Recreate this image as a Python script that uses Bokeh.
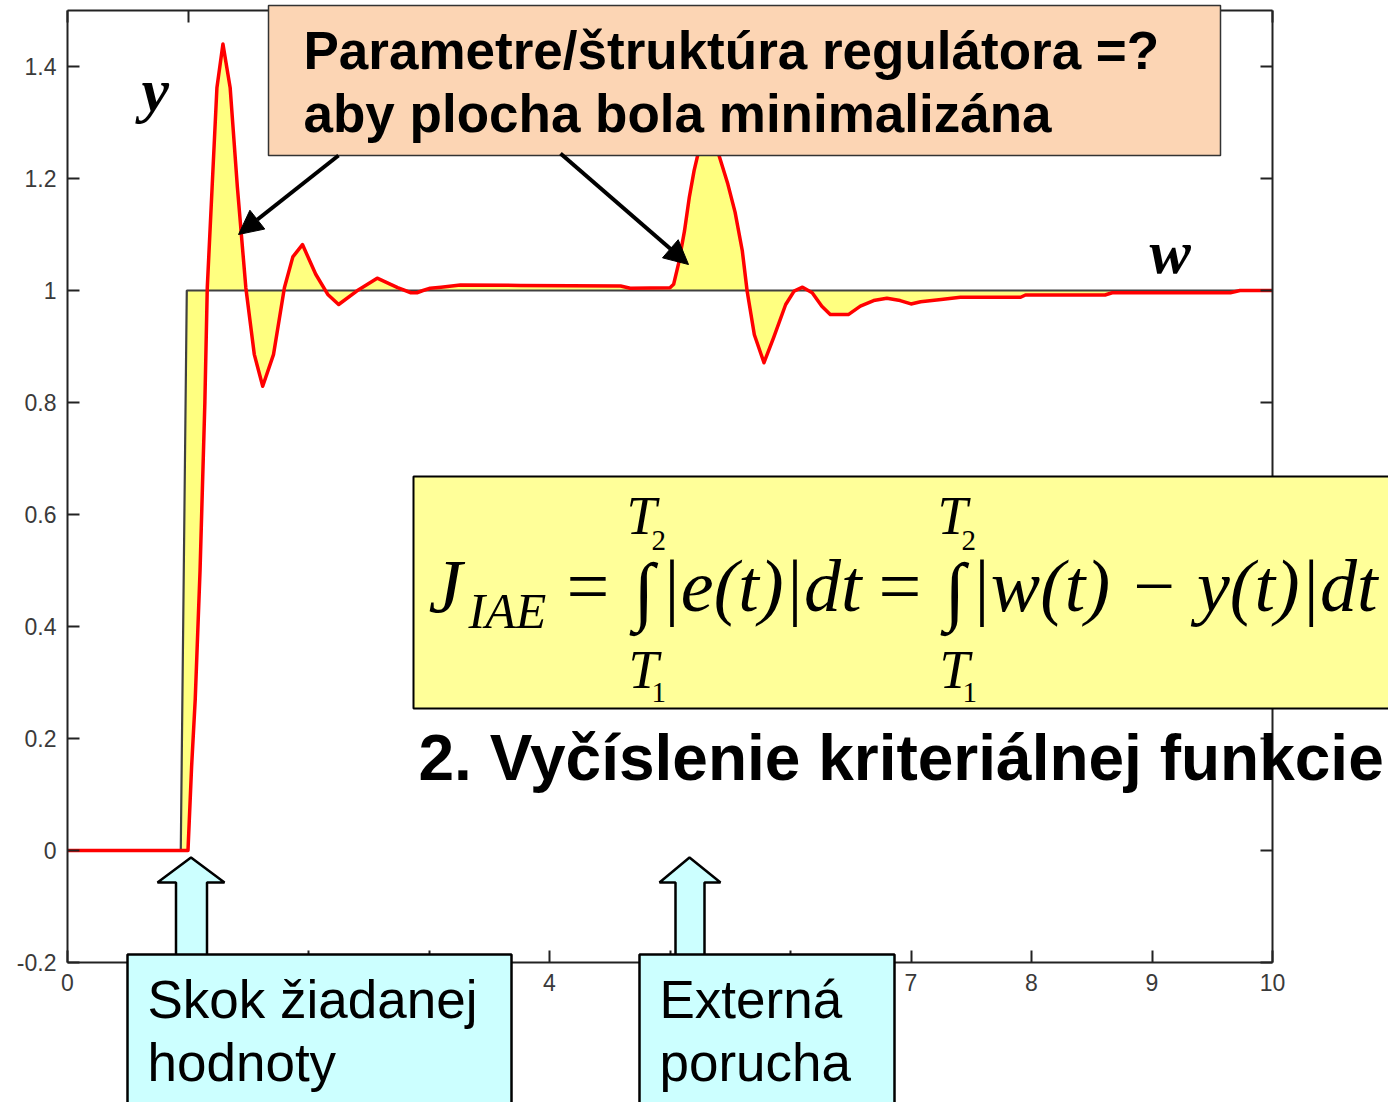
import numpy as np
from bokeh.plotting import figure
from bokeh.models import (LinearAxis, FixedTicker, Range1d, BoxAnnotation, Label,
                          Arrow, NormalHead, PolyAnnotation)
from bokeh.embed import file_html
from bokeh.resources import INLINE

# reference signal w(t): unit step of the setpoint
t_w = [0.0, 0.94, 0.99, 10.0]
w = [0.0, 0.0, 1.0, 1.0]

# controlled output y(t): setpoint step at t=1, disturbance at t=5
t_y = [0.0, 1.00, 1.03, 1.06, 1.10, 1.14, 1.16, 1.20, 1.24, 1.29, 1.35, 1.41,
       1.48, 1.55, 1.62, 1.71, 1.80, 1.87, 1.95, 2.06, 2.16, 2.25, 2.40, 2.57,
       2.74, 2.85, 2.90, 2.95, 3.01, 3.10, 3.26, 3.76, 4.59, 4.67, 5.00, 5.03,
       5.07, 5.12, 5.16, 5.20, 5.25, 5.31, 5.38, 5.48, 5.54, 5.60, 5.64, 5.70,
       5.78, 5.86, 5.96, 6.03, 6.10, 6.18, 6.26, 6.33, 6.48, 6.58, 6.69, 6.80,
       6.91, 7.00, 7.08, 7.25, 7.41, 7.91, 7.95, 8.61, 8.67, 9.65, 9.73, 10.0]
y = [0.0, 0.0, 0.15, 0.27, 0.50, 0.80, 1.005, 1.184, 1.362, 1.44, 1.362, 1.184,
     1.005, 0.886, 0.829, 0.886, 1.005, 1.060, 1.082, 1.029, 0.993, 0.975, 0.999, 1.022,
     1.005, 0.996, 0.996, 1.0, 1.004, 1.006, 1.010, 1.009, 1.008, 1.004, 1.005, 1.011,
     1.047, 1.106, 1.166, 1.214, 1.26, 1.28, 1.26, 1.19, 1.14, 1.071, 0.999, 0.921,
     0.871, 0.916, 0.975, 0.999, 1.006, 0.996, 0.972, 0.957, 0.957, 0.972, 0.982, 0.986,
     0.982, 0.976, 0.980, 0.984, 0.988, 0.988, 0.992, 0.992, 0.996, 0.996, 1.0, 1.0]

x_ticks = [0, 1, 2, 3, 4, 5, 6, 7, 8, 9, 10]
x_tick_labels = ["0", "1", "2", "3", "4", "5", "6", "7", "8", "9", "10"]
y_ticks = [-0.2, 0, 0.2, 0.4, 0.6, 0.8, 1, 1.2, 1.4]
y_tick_labels = ["-0.2", "0", "0.2", "0.4", "0.6", "0.8", "1", "1.2", "1.4"]

# page geometry (pixels); the axes box occupies FL..FR x FT..FB
W, H = 1388, 1102
FL, FR, FT, FB = 67, 1272, 10, 962
X0, X1 = 0.0, 10.0
Y0, Y1 = -0.2, 1.5


def px(xp):
    return X0 + (xp - FL) / (FR - FL) * (X1 - X0)


def py(yp):
    return Y1 - (yp - FT) / (FB - FT) * (Y1 - Y0)


# the frame spans the whole page so the callouts can sit around the axes box
p = figure(width=W, height=H, x_range=Range1d(px(0), px(W)), y_range=Range1d(py(H), py(0)),
           output_backend="svg", toolbar_location=None,
           x_axis_location=None, y_axis_location=None, min_border=0)
p.xgrid.visible = False
p.ygrid.visible = False
p.outline_line_color = None
p.background_fill_color = "white"
p.border_fill_color = "white"

AX = "#222222"
TICK_FONT = "Liberation Sans"


def axis(ticks, labels, show, loc, bounds):
    ax = LinearAxis(ticker=FixedTicker(ticks=ticks),
                    major_label_overrides={v: s for v, s in zip(ticks, labels)},
                    fixed_location=loc, bounds=bounds,
                    major_tick_in=12, major_tick_out=0,
                    minor_tick_line_color=None,
                    axis_line_color=AX, axis_line_width=2,
                    major_tick_line_color=AX, major_tick_line_width=2,
                    major_label_text_font=TICK_FONT,
                    major_label_text_color="#3a3a3a",
                    major_label_text_font_size="23px" if show else "0px",
                    major_label_standoff=11 if show else 0)
    if not show:
        ax.major_label_text_alpha = 0
    return ax


p.add_layout(axis(x_ticks, x_tick_labels, True, Y0, (X0, X1)), "below")
p.add_layout(axis(y_ticks, y_tick_labels, True, X0, (Y0, Y1)), "left")
p.add_layout(axis(x_ticks, x_tick_labels, False, Y1, (X0, X1)), "above")
p.add_layout(axis(y_ticks, y_tick_labels, False, X1, (Y0, Y1)), "right")

# area between w(t) and y(t)
p.patch(x=list(t_y) + t_w[::-1], y=list(y) + w[::-1],
        fill_color="#FFFF80", line_color=None)
p.line(t_w, w, line_color="#404040", line_width=2.2)
p.line(t_y, y, line_color="#FF0000", line_width=3.5, line_join="round")

SANS = "Liberation Sans"
SERIF = "Liberation Serif"
DESC = {SANS: 0.212, SERIF: 0.216}


def text(txt, xp, base, size, font=SANS, style="normal"):
    # place text by its baseline (page pixels)
    p.add_layout(Label(x=px(xp), y=py(base + DESC[font] * size), text=txt,
                       text_font=font, text_font_style=style,
                       text_font_size=f"{size}px", text_color="black",
                       text_baseline="bottom", text_align="left"))


# curve names
text("y", 141, 110, 62, SERIF, "bold italic")
text("w", 1149, 272, 62, SERIF, "bold italic")

# question box
p.add_layout(BoxAnnotation(left=px(268), right=px(1220), top=py(5), bottom=py(155),
                           fill_color="#FCD5B4", fill_alpha=1.0,
                           line_color="#333333", line_alpha=1.0, line_width=1.5))
text("Parametre/štruktúra regulátora =?", 303, 68, 53, SANS, "bold")
text("aby plocha bola minimalizána", 303, 131, 53, SANS, "bold")

for (xs, ys, xe, ye) in [(338, 155, 238, 234), (560, 153, 688, 264)]:
    p.add_layout(Arrow(end=NormalHead(size=24, fill_color="black", line_color="black"),
                       x_start=px(xs), y_start=py(ys), x_end=px(xe), y_end=py(ye),
                       line_width=4, line_color="black"))

# formula box
p.add_layout(BoxAnnotation(left=px(413), right=px(1400), top=py(476), bottom=py(708),
                           fill_color="#FFFF99", fill_alpha=1.0,
                           line_color="black", line_alpha=1.0, line_width=2))

formula = [
    ("J", 428, 611, 76, "italic"),
    ("IAE", 468, 628, 50, "italic"),
    ("=", 566, 611, 76, "normal"),
    ("∫", 633, 615, 76, "normal"),
    ("T", 626, 534, 54, "italic"),
    ("2", 651, 543, 29, "normal"),
    ("T", 628, 688, 54, "italic"),
    ("1", 651, 695, 29, "normal"),
    ("|e(t)|dt", 660, 611, 74, "italic"),
    ("=", 878, 611, 76, "normal"),
    ("∫", 944, 615, 76, "normal"),
    ("T", 937, 534, 54, "italic"),
    ("2", 961, 543, 29, "normal"),
    ("T", 939, 688, 54, "italic"),
    ("1", 962, 695, 29, "normal"),
    ("|w(t) − y(t)|dt", 970, 611, 74, "italic"),
]
for txt, xp, base, size, style in formula:
    text(txt, xp, base, size, SERIF, style)

text("2. Vyčíslenie kriteriálnej funkcie", 418, 780, 64, SANS, "bold")

# block arrows pointing at the two events
for cx, hl, hr, sl, sr in [(190.5, 157, 224, 175.5, 206.5), (689, 659, 720, 675, 704)]:
    xs = [cx, hr, sr, sr, sl, sl, hl]
    ys = [857, 882, 882, 956, 956, 882, 882]
    p.add_layout(PolyAnnotation(xs=[px(v) for v in xs], ys=[py(v) for v in ys],
                                fill_color="#CCFFFF", fill_alpha=1.0,
                                line_color="black", line_alpha=1.0, line_width=2.5))

for left, right, lines in [(127, 511, ["Skok žiadanej", "hodnoty"]),
                           (639, 894, ["Externá", "porucha"])]:
    p.add_layout(BoxAnnotation(left=px(left), right=px(right), top=py(954), bottom=py(1120),
                               fill_color="#CCFFFF", fill_alpha=1.0,
                               line_color="black", line_alpha=1.0, line_width=2.5))
    for i, txt in enumerate(lines):
        text(txt, left + 20, 1017 + 63 * i, 53, SANS)

open("out.html", "w").write(file_html(p, INLINE))
